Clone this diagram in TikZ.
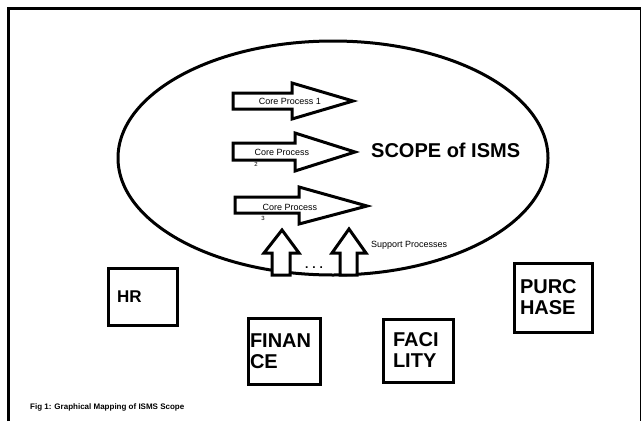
\documentclass[tikz,border=0pt]{standalone}
\usepackage{fontspec}
\setmainfont{Liberation Sans}
\usetikzlibrary{positioning,calc}

\begin{document}
\begin{tikzpicture}[x=1pt,y=-1pt,
        blk/.style={draw, line width=3pt, line join=miter, fill=white},
        dept/.style={draw, line width=3pt, rectangle, align=left, inner sep=0pt,
            font=\fontsize{20}{21}\selectfont\bfseries},
        small/.style={font=\fontsize{9}{10}\selectfont, inner sep=0pt},
        tiny/.style={font=\fontsize{6}{6}\selectfont, inner sep=0pt}]
\useasboundingbox (0,0) rectangle (642,421);

% frame
\draw[line width=3pt] (8.5,421) -- (8.5,8.5) -- (641,8.5);
\draw[line width=1.5pt] (640.5,8.5) -- (640.5,421);

% scope
\draw[line width=3pt] (333,158) ellipse [x radius=215, y radius=117];

% core processes
\draw[blk] (233,93) -- (292,93) -- (292,83) -- (353,101) -- (292,119) -- (292,109) -- (233,109) -- cycle;
\draw[blk] (233,143) -- (295,143) -- (295,133) -- (355,152) -- (295,171) -- (295,160) -- (233,160) -- cycle;
\draw[blk] (235,197) -- (299,197) -- (299,187) -- (367,206) -- (299,224) -- (299,213) -- (235,213) -- cycle;

\node[small] (c1) at (290,101) {Core Process 1};
\node[small] (c2) at (282,152) {Core Process};
\node[tiny] (n2) at (256,164) {2};
\node[small] (c3) at (290,207) {Core Process};
\node[tiny] (n3) at (263,218) {3};

\node[anchor=west, inner sep=0pt, font=\fontsize{20}{20}\selectfont\bfseries] (scope) at (371,150) {SCOPE of ISMS};

% support processes
\draw[blk] (272,275) -- (272,253) -- (264,253) -- (282,230) -- (299,253) -- (290,253) -- (290,275) -- cycle;
\draw[blk] (340,275) -- (340,253) -- (332,253) -- (349,229) -- (366,253) -- (357,253) -- (357,275) -- cycle;
\node[inner sep=0pt, font=\fontsize{12}{12}\selectfont\bfseries] (dots) at (314,268) {.\,\,.\,\,.};
\node[small, anchor=west] (sup) at (371,245) {Support Processes};

% departments
\node[dept, minimum width=69, minimum height=57, text width=51] (hr) at (142.5,296.5) {\fontsize{17}{18}\selectfont HR};
\node[dept, minimum width=72, minimum height=66, text width=68] (fin) at (284,351) {FINAN\\CE};
\node[dept, minimum width=70, minimum height=63, text width=50] (fac) at (418,350.5) {FACI\\LITY};
\node[dept, minimum width=78, minimum height=69, text width=66] (pur) at (553,297.5) {PURC\\HASE};

\node[anchor=west, inner sep=0pt, font=\fontsize{8}{8}\selectfont\bfseries] (cap) at (30,407) {Fig 1: Graphical Mapping of ISMS Scope};

\end{tikzpicture}
\end{document}
